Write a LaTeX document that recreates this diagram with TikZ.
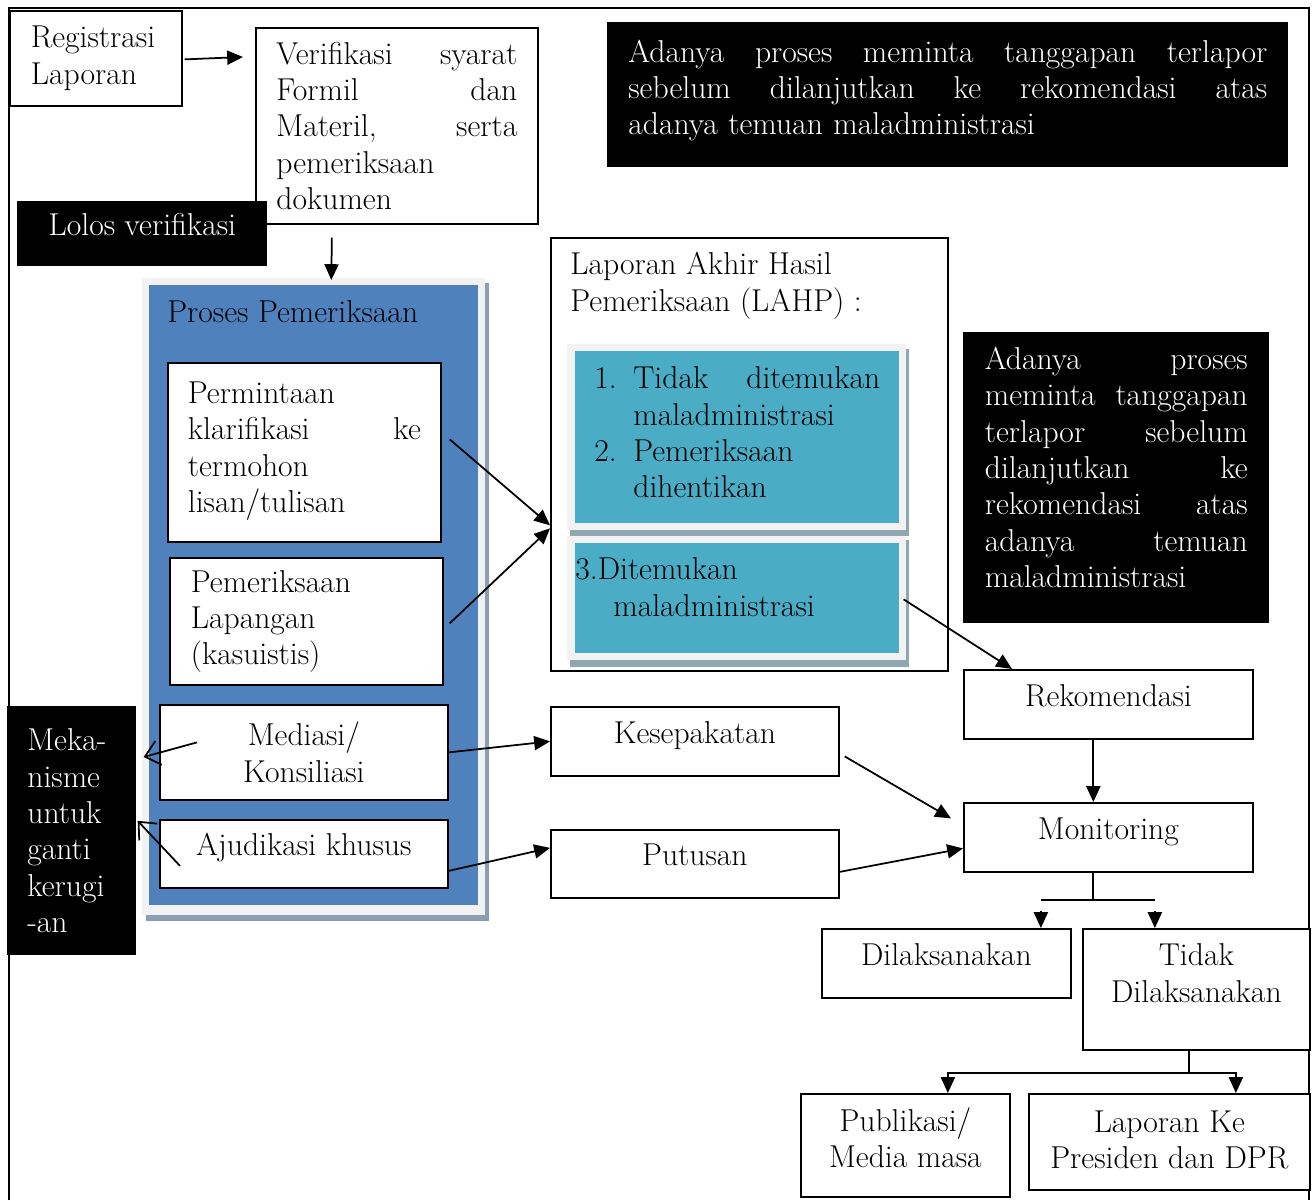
\documentclass[tikz,border=0pt]{standalone}
\usepackage{fontspec}
\usepackage{xcolor}
\usetikzlibrary{calc,arrows.meta}
\definecolor{procblue}{HTML}{4F81BD}
\definecolor{lahpcyan}{HTML}{4BACC6}
\definecolor{paleframe}{HTML}{F2F2F2}
\definecolor{blueshade}{HTML}{8C9DB4}
\definecolor{cyanshade}{HTML}{8FA8AF}
\newcommand{\lift}[1]{\rule[-#1]{0pt}{#1}}
\tikzset{
  txt/.style={font=\fontsize{18}{20.7}\selectfont, inner sep=0pt, anchor=north west},
  box/.style={txt, draw, line width=1pt, fill=white},
  darkbox/.style={txt, fill=black, text=white},
  oneline/.style={text height=12pt, text depth=10pt},
  tri/.style={-{Triangle[length=9pt,width=8pt]}, line width=1pt},
  barb/.style={-{Straight Barb[length=8pt,width=14pt]}, line width=1pt},
}

\begin{document}
\begin{tikzpicture}[x=0.02cm, y=-0.02cm]
\useasboundingbox (0,0) rectangle (1314,1200);
\draw[line width=1pt] (9,1200) -- (9,8) -- (1309,8) -- (1309,1200);
%%
\node[box, minimum width=3.44cm, minimum height=1.90cm, text width=2.6cm, align=left] (reg) at (9,10) {Registrasi\\Laporan};
\node[box, minimum width=5.64cm, minimum height=3.92cm, text width=4.82cm, align=left] (verif) at (255,27)
  {Verifikasi\hfill syarat\\Formil\hfill dan\\Materil,\hfill serta\\pemeriksaan\\dokumen};
\node[darkbox, oneline, minimum width=5.0cm, minimum height=1.3cm] (lolos) at (17,201) {Lolos verifikasi};
%%
\fill[blueshade] (146,283) rectangle (489,921);
\fill[paleframe] (142,278) rectangle (485,915);
\node[txt, fill=procblue, minimum width=6.58cm, minimum height=12.4cm] (proc) at (149,285) {};
\node[txt] (proctitle) at (167,300) {Proses Pemeriksaan};
\node[box, minimum width=5.46cm, minimum height=3.58cm, text width=4.66cm, align=left] (perm) at (167,362)
  {Permintaan\\klarifikasi\hfill ke\\termohon\\lisan/tulisan\lift{0.2cm}};
\node[box, minimum width=5.46cm, minimum height=2.54cm, text width=4.62cm, align=left] (lap) at (169,557)
  {Pemeriksaan\\Lapangan\\(kasuistis)};
\node[box, minimum width=5.76cm, minimum height=1.9cm, align=center] (med) at (159,704) {Mediasi/\\Konsiliasi};
\node[box, oneline, minimum width=5.76cm, minimum height=1.36cm] (ajud) at (159,819) {Ajudikasi khusus};
\node[darkbox, minimum width=2.58cm, minimum height=4.98cm, text width=1.78cm, align=left] (meka) at (7,706)
  {Meka-\\nisme\\untuk\\ganti\\kerugi\\-an};
%%
\node[box, minimum width=7.94cm, minimum height=8.66cm] (lahp) at (550,237) {};
\node[txt, align=left] (lahptitle) at (570,252) {Laporan Akhir Hasil\\Pemeriksaan (LAHP) :};
\fill[cyanshade] (570,349) rectangle (909,536);
\fill[paleframe] (567,344) rectangle (906,530);
\node[txt, fill=lahpcyan, minimum width=6.48cm, minimum height=3.44cm, text width=5.72cm, align=left] (nofind) at (575,351)
  {\makebox[0.78cm][l]{1.}Tidak\hfill ditemukan\\\hspace*{0.78cm}maladministrasi\\\makebox[0.78cm][l]{2.}Pemeriksaan\\\hspace*{0.78cm}dihentikan\lift{0.2cm}};
\fill[cyanshade] (570,540) rectangle (909,667);
\fill[paleframe] (567,536) rectangle (906,660);
\node[txt, fill=lahpcyan, minimum width=6.48cm, minimum height=2.2cm, text width=6.48cm, align=left] (found) at (575,543)
  {3.Ditemukan\\\hspace*{0.76cm}maladministrasi\lift{0.45cm}};
%%
\node[darkbox, minimum width=13.62cm, minimum height=2.9cm, text width=12.78cm, align=left] (topnote) at (607,22)
  {Adanya\hfill proses\hfill meminta\hfill tanggapan\hfill terlapor\\sebelum\hfill dilanjutkan\hfill ke\hfill rekomendasi\hfill atas\\adanya temuan maladministrasi\lift{0.3cm}};
\node[darkbox, minimum width=6.12cm, minimum height=5.82cm, text width=5.26cm, align=left] (midnote) at (963,332)
  {Adanya\hfill proses\\meminta\hfill tanggapan\\terlapor\hfill sebelum\\dilanjutkan\hfill ke\\rekomendasi\hfill atas\\adanya\hfill temuan\\maladministrasi\lift{0.42cm}};
%%
\node[box, oneline, minimum width=5.78cm, minimum height=1.38cm] (rek) at (963,669) {Rekomendasi};
\node[box, oneline, minimum width=5.78cm, minimum height=1.38cm] (mon) at (963,802) {Monitoring};
\node[box, oneline, minimum width=5.76cm, minimum height=1.38cm] (kes) at (550,706) {Kesepakatan};
\node[box, oneline, minimum width=5.76cm, minimum height=1.36cm] (put) at (550,829) {Putusan};
\node[box, oneline, minimum width=4.98cm, minimum height=1.38cm] (dil) at (821,928) {Dilaksanakan};
\node[box, minimum width=4.54cm, minimum height=2.42cm, align=center] (tidak) at (1082,928) {Tidak\\Dilaksanakan\lift{0.65cm}};
\node[box, minimum width=4.18cm, minimum height=2.06cm, align=center] (pub) at (800,1093) {Publikasi/\\Media masa\lift{0.3cm}};
\node[box, minimum width=5.62cm, minimum height=1.92cm, align=center] (lapk) at (1028,1093) {Laporan Ke\\Presiden dan DPR\lift{0.1cm}};
%%
\draw[tri] ($(reg.east)+(2,1)$) -- ($(verif.north west)+(-12,30)$);
\draw[tri] ($(verif.south)+(-65,13)$) -- ($(proc.north)+(17.5,-5)$);
\draw[tri] ($(perm.east)+(8,-13)$) -- ($(lahp.west)+(0,71)$);
\draw[tri] ($(lap.east)+(6,2)$) -- ($(lahp.west)+(0,74)$);
\draw[tri] (med.east) -- (kes.west);
\draw[tri] ($(ajud.east)+(0,17)$) -- ($(put.west)+(0,-16)$);
\draw[barb] ($(med.west)+(38,-10)$) -- ($(meka.north east)+(7,51)$);
\draw[barb] ($(ajud.west)+(21,12)$) -- ($(meka.east)+(1,-10)$);
\draw[tri] ($(found.east)+(4,1)$) -- ($(rek.north west)+(49,0)$);
\draw[tri] ($(rek.south)+(-15,0)$) -- ($(mon.north)+(-15,0)$);
\draw[tri] ($(kes.east)+(5,15)$) -- ($(mon.west)+(-12,-19)$);
\draw[tri] ($(put.east)+(0,8)$) -- ($(mon.west)+(0,11)$);
%%
\coordinate (monfork) at ($(mon.south)+(-15,27)$);
\draw[line width=1pt] ($(mon.south)+(-15,0)$) -- (monfork);
\draw[line width=1pt] ($(monfork)+(-52,0)$) -- ($(monfork)+(62,0)$);
\draw[tri] ($(dil.north)+(94.5,-17)$) -- ($(dil.north)+(94.5,0)$);
\draw[tri] ($(tidak.north)+(-41.5,-17)$) -- ($(tidak.north)+(-41.5,0)$);
%%
\coordinate (tdkfork) at ($(tidak.south)+(-7.5,22)$);
\draw[line width=1pt] ($(tidak.south)+(-7.5,0)$) -- (tdkfork);
\draw[tri] (tdkfork) -| ($(pub.north)+(42.5,0)$);
\draw[tri] (tdkfork) -| ($(lapk.north)+(66.5,0)$);
\end{tikzpicture}
\end{document}
